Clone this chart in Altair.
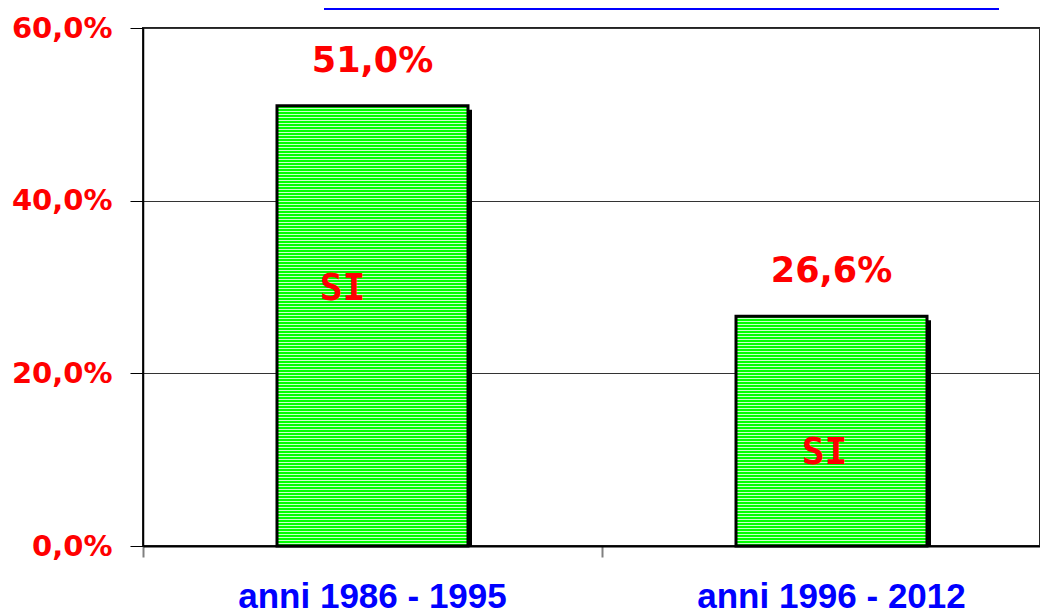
import altair as alt
import pandas as pd

# ---- data ----
periods = ["anni 1986 - 1995", "anni 1996 - 2012"]
values = [51.0, 26.6]
value_labels = ["51,0%", "26,6%"]
inner_labels = ["SI", "SI"]
inner_label_y = [29.8, 10.8]
y_ticks = [0, 20, 40, 60]

df = pd.DataFrame({
    "periodo": periods,
    "valore": values,
    "etichetta": value_labels,
    "interno": inner_labels,
    "interno_y": inner_label_y,
})

PLOT_H = 518
Y_MAX = 60
BRIGHT = "#00FF00"
LIGHT = "#C8FFC8"
INNER_DX = [-30, -7]   # horizontal nudge of the "SI" labels (style)


def stripes(bar_px, period_px=3.0, bright_px=2.0):
    """Horizontal pinstripe fill, laid out from the bar's bottom edge so that
    every bar gets the same pixel-aligned pattern."""
    step = period_px / bar_px
    bstep = bright_px / bar_px
    stops = []
    hi = 1.0
    while hi > 0.0:
        mid = max(hi - bstep, 0.0)
        lo = max(hi - step, 0.0)
        stops = [
            {"offset": lo, "color": LIGHT},
            {"offset": mid, "color": LIGHT},
            {"offset": mid, "color": BRIGHT},
            {"offset": hi, "color": BRIGHT},
        ] + stops
        hi = lo
    return {"gradient": "linear", "x1": 0, "y1": 0, "x2": 0, "y2": 1, "stops": stops}


x_enc = alt.X(
    "periodo:N",
    sort=periods,
    scale=alt.Scale(paddingInner=0, paddingOuter=0, range=[0, 918]),
    axis=alt.Axis(
        title=None,
        bandPosition=0,
        labelAngle=0,
        labelLimit=600,
        labelFont="Liberation Sans",
        labelFontWeight="bold",
        labelFontSize=35,
        labelColor="#0000FF",
        labelBaseline="alphabetic",
        labelPadding=50,
        tickSize=11,
        tickColor="#808080",
        tickWidth=2,
        domainColor="#000000",
        domainWidth=2,
        grid=False,
    ),
)

y_enc = alt.Y(
    "valore:Q",
    scale=alt.Scale(domain=[0, Y_MAX], nice=False),
    axis=alt.Axis(
        title=None,
        values=y_ticks,
        labelExpr="replace(format(datum.value, '.1f'), '.', ',') + '%'",
        labelFont="DejaVu Sans",
        labelFontWeight="bold",
        labelFontSize=29,
        labelColor="#FF0000",
        labelPadding=18,
        tickSize=13,
        tickColor="#000000",
        grid=True,
        gridColor="#333333",
        gridWidth=1,
        domainColor="#000000",
        domainWidth=1.5,
    ),
)

base = alt.Chart(df)

shadow = base.mark_bar(
    color="#000000", size=191, xOffset=4, x2Offset=4, yOffset=4, y2Offset=4, clip=True
).encode(x=x_enc, y=y_enc)

bar_layers = []
inner_layers = []
for p, v, dx in zip(periods, values, INNER_DX):
    sub = base.transform_filter(alt.datum.periodo == p)
    bar_layers.append(
        sub.mark_bar(
            fill=stripes(v / Y_MAX * PLOT_H), stroke="#000000", strokeWidth=3, size=191
        ).encode(x=x_enc, y=y_enc)
    )
    inner_layers.append(
        sub.mark_text(
            font="DejaVu Sans Mono", fontWeight="bold", fontSize=38, color="#FF0000",
            baseline="middle", dx=dx,
        ).encode(x=x_enc, y=alt.Y("interno_y:Q"), text="interno:N")
    )

labels = base.mark_text(
    font="DejaVu Sans", fontWeight="bold", fontSize=35, color="#FF0000",
    baseline="alphabetic", dy=-34,
).encode(x=x_enc, y=y_enc, text="etichetta:N")

box = alt.Chart(pd.DataFrame({"k": [0]})).mark_rect(
    fill="#FFFFFF", stroke="#0000FF", strokeWidth=2
).encode(x=alt.value(182), x2=alt.value(855), y=alt.value(-40), y2=alt.value(-19))

chart = alt.layer(shadow, *bar_layers, labels, *inner_layers, box).properties(
    width=897,
    height=PLOT_H,
    padding={"left": 135, "top": 20, "right": 0, "bottom": 64},
    autosize=alt.AutoSizeParams(type="none"),
).configure_view(stroke="#222222", strokeWidth=2)

chart.save("out.html", embed_options={"renderer": "svg", "actions": False})
